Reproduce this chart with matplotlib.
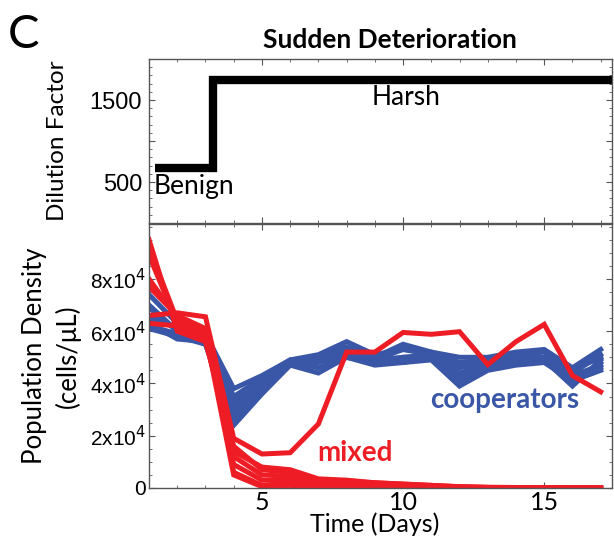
import numpy as np
import matplotlib
matplotlib.use("Agg")
import matplotlib.pyplot as plt
from matplotlib.ticker import MultipleLocator, FixedLocator

# days of sampling
days = list(range(1, 18))

# dilution regime (top panel)
step_x = [1.2, 3.25, 3.25, 17.4]
step_y = [670, 670, 1740, 1740]

# population density, units of 1e4 cells/uL
coop = [
    [7.4, 6.3, 5.9, 3.8, 4.3, 4.9, 5.1, 5.6, 5.1, 5.3, 5.2, 5.0, 5.0, 5.2, 5.3, 4.6, 5.3],
    [7.0, 6.0, 5.8, 3.5, 4.2, 4.9, 5.0, 5.4, 5.0, 5.5, 5.2, 4.8, 4.9, 5.1, 5.2, 4.4, 5.1],
    [6.6, 6.1, 5.7, 3.1, 4.0, 4.8, 4.9, 5.2, 4.9, 5.3, 5.1, 4.6, 4.8, 5.0, 5.0, 4.5, 5.0],
    [6.4, 6.2, 5.6, 2.8, 3.8, 4.7, 4.8, 5.1, 4.8, 5.0, 5.0, 4.4, 4.7, 4.9, 5.0, 4.3, 4.7],
    [6.2, 5.9, 5.5, 2.6, 3.7, 4.8, 4.6, 5.0, 4.8, 4.9, 5.0, 4.3, 4.6, 4.8, 4.9, 4.2, 4.6],
    [6.1, 5.8, 5.5, 2.4, 3.6, 4.7, 4.4, 5.0, 4.7, 4.8, 4.9, 3.9, 4.5, 4.7, 4.8, 4.1, 4.5],
    [6.3, 5.7, 5.6, 3.0, 3.9, 4.8, 4.9, 5.1, 4.8, 4.8, 5.0, 4.1, 4.6, 4.8, 4.9, 4.0, 4.8],
    [6.9, 6.0, 5.7, 3.3, 4.1, 4.8, 5.0, 5.3, 4.9, 5.0, 5.1, 4.7, 4.7, 4.9, 4.9, 3.9, 4.9],
]
mixed = [
    [9.5, 6.0, 5.6, 1.6, 0.7, 0.6, 0.3, 0.25, 0.2, 0.15, 0.1, 0.05, 0.03, 0.02, 0.01, 0.01, 0.0],
    [8.9, 6.3, 5.8, 1.2, 0.5, 0.45, 0.25, 0.2, 0.15, 0.1, 0.06, 0.03, 0.02, 0.01, 0.0, 0.0, 0.0],
    [8.0, 6.5, 6.0, 0.9, 0.3, 0.3, 0.15, 0.1, 0.08, 0.05, 0.03, 0.02, 0.01, 0.0, 0.0, 0.0, 0.0],
    [7.7, 6.6, 6.1, 0.6, 0.1, 0.2, 0.1, 0.05, 0.03, 0.02, 0.01, 0.0, 0.0, 0.0, 0.0, 0.0, 0.0],
    [6.3, 6.2, 5.7, 1.4, 0.8, 0.7, 0.35, 0.3, 0.2, 0.15, 0.1, 0.05, 0.02, 0.01, 0.0, 0.0, 0.0],
    [9.2, 6.4, 5.9, 0.5, 0.05, 0.1, 0.05, 0.03, 0.02, 0.01, 0.0, 0.0, 0.0, 0.0, 0.0, 0.0, 0.0],
    [6.6, 6.7, 6.55, 1.9, 1.3, 1.35, 2.45, 5.2, 5.2, 5.95, 5.88, 5.98, 4.72, 5.6, 6.26, 4.3, 3.68],
]

blue = "#3a56a6"
red = "#ee1d25"
label_font = "Lato"
tick_font = "Liberation Sans"

fig = plt.figure(figsize=(6.14, 5.4), dpi=100)
ax1 = fig.add_axes([0.2427, 0.587, 0.754, 0.3037])
ax2 = fig.add_axes([0.2427, 0.0963, 0.754, 0.4889])

# top panel
ax1.plot(step_x, step_y, color="black", lw=6, solid_joinstyle="miter", solid_capstyle="butt")
ax1.set_xlim(1, 17.4)
ax1.set_ylim(0, 2000)
ax1.set_yticks([500, 1000, 1500])
ax1.set_yticklabels(["500", "", "1500"], fontsize=17, family=tick_font)
ax1.yaxis.set_minor_locator(MultipleLocator(100))
ax1.xaxis.set_major_locator(FixedLocator([5, 10, 15]))
ax1.xaxis.set_minor_locator(MultipleLocator(1))
ax1.tick_params(axis="x", labelbottom=False)
ax1.set_ylabel("Dilution Factor", fontsize=17.5, family=label_font)
ax1.yaxis.set_label_coords(-0.175, 0.5)
ax1.text(1.15, 600, "Benign", fontsize=19, family=label_font, va="top", ha="left")
ax1.text(10.1, 1680, "Harsh", fontsize=19, family=label_font, va="top", ha="center")
ax1.set_title("Sudden Deterioration", fontsize=19, family=label_font, fontweight="bold",
              pad=8, x=0.52)

# bottom panel
for row in coop:
    ax2.plot(days, np.array(row) * 1e4, color=blue, lw=3.6, solid_joinstyle="miter")
for row in mixed:
    ax2.plot(days, np.array(row) * 1e4, color=red, lw=3.6, solid_joinstyle="miter")
ax2.set_xlim(1, 17.4)
ax2.set_ylim(0, 101000)
ax2.set_xticks([5, 10, 15])
ax2.set_xticklabels(["5", "10", "15"], fontsize=18, family=label_font)
ax2.xaxis.set_minor_locator(MultipleLocator(1))
ax2.set_yticks([0, 20000, 40000, 60000, 80000])
ax2.set_yticklabels(["0", r"2x10$^{4}$", r"4x10$^{4}$", r"6x10$^{4}$", r"8x10$^{4}$"],
                    fontsize=15, family=tick_font)
ax2.yaxis.set_minor_locator(MultipleLocator(5000))
ax2.set_xlabel("Time (Days)", fontsize=18, family=label_font)
ax2.xaxis.set_label_coords(0.487, -0.166)
ax2.xaxis.label.set_va("baseline")
ax2.set_ylabel("Population Density\n(cells/\u03bcL)", fontsize=18.5, family=label_font,
               linespacing=1.35)
ax2.yaxis.set_label_coords(-0.148, 0.5)
ax2.text(13.6, 33500, "cooperators", fontsize=20, family=label_font, fontweight="bold",
         color=blue, ha="center", va="center")
ax2.text(8.3, 13500, "mixed", fontsize=20, family=label_font, fontweight="bold",
         color=red, ha="center", va="center")

for ax in (ax1, ax2):
    for s in ax.spines.values():
        s.set_color("#555555")
        s.set_linewidth(1.0)
    ax.tick_params(which="both", direction="in", top=True, right=True, color="#555555")
    ax.tick_params(which="major", length=4, width=0.8, pad=2)
    ax.tick_params(which="minor", length=2, width=0.6)
ax1.tick_params(axis="y", pad=5)

fig.text(0.013, 0.975, "C", fontsize=34, family=label_font, va="top", ha="left")

fig.savefig("out.png", dpi=100)
